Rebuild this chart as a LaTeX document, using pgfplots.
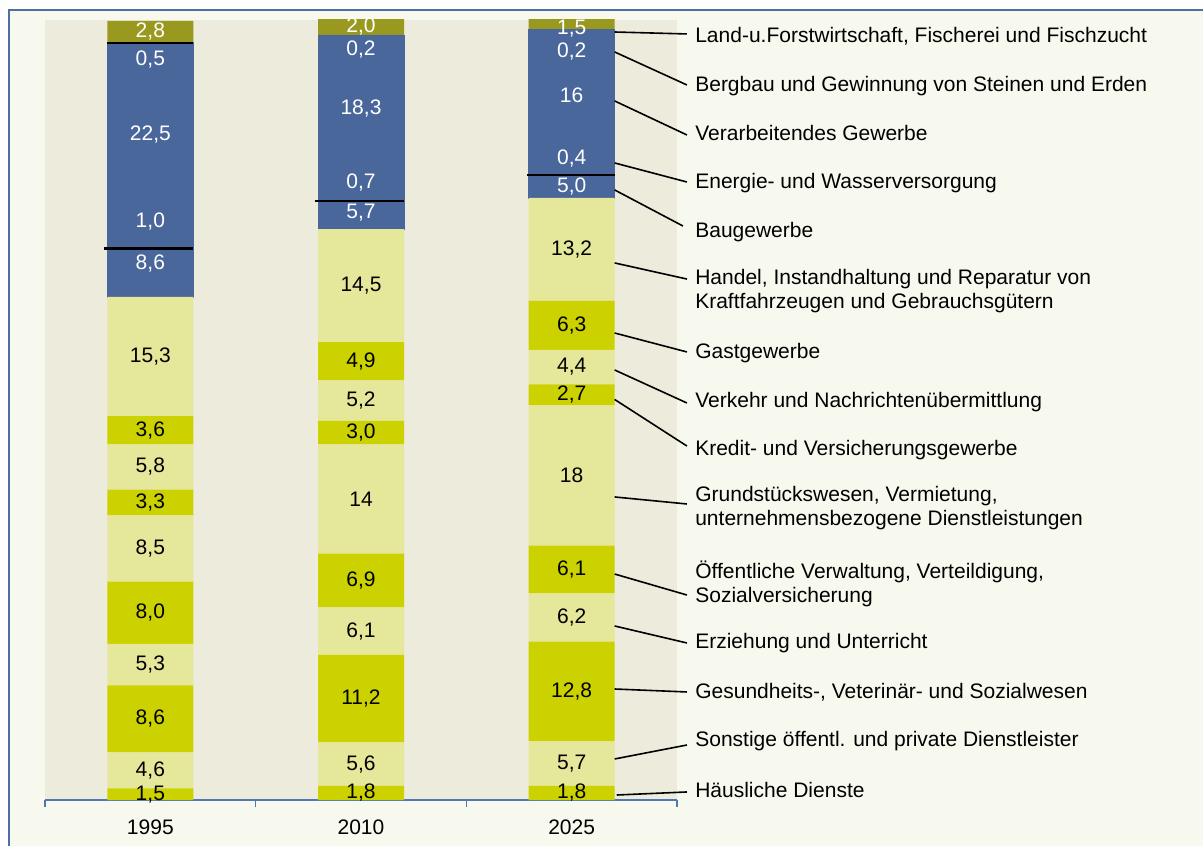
\documentclass[border=0pt]{standalone}
\usepackage{fontspec}
\setmainfont{Liberation Sans}
\usepackage{pgfplots}
\usepackage{pgfplotstable}
\pgfplotsset{compat=1.18}

\definecolor{barblue}{RGB}{74,103,155}
\definecolor{barolive}{RGB}{153,153,31}
\definecolor{barlight}{RGB}{229,231,154}
\definecolor{barlime}{RGB}{204,209,0}
\definecolor{plotbg}{RGB}{237,235,220}
\definecolor{framebg}{RGB}{248,249,238}
\definecolor{frameblue}{RGB}{79,110,165}
\definecolor{axisblue}{RGB}{79,120,180}

% shares in percent, stacked from bottom to top
\pgfplotstableread{
x haeus sonst ges erz oeff grund kredit verkehr gast handel bau energie verarb bergbau land
0 1.5 4.6 8.6 5.3 8.0 8.5 3.3 5.8 3.6 15.3 8.6 1.0 22.5 0.5 2.8
1 1.8 5.6 11.2 6.1 6.9 14 3.0 5.2 4.9 14.5 5.7 0.7 18.3 0.2 2.0
2 1.8 5.7 12.8 6.2 6.1 18 2.7 4.4 6.3 13.2 5.0 0.4 16 0.2 1.5
}\shares

% value labels (placed at segment middles, small ones moved as in the original)
\pgfplotstableread{
x y lab
0 68.8 8,6
0 74.2 1,0
0 85.35 22,5
0 94.9 0,5
0 98.5 2,8
1 75.3 5,7
1 79.1 0,7
1 88.7 18,3
1 96.2 0,2
1 99.1 2,0
2 78.7 5,0
2 82.3 0,4
2 90.4 16
2 95.9 0,2
2 98.85 1,5
}\lblwhite

\pgfplotstableread{
x y lab
0 0.75 1,5
0 3.8 4,6
0 10.4 8,6
0 17.35 5,3
0 24.0 8,0
0 32.25 8,5
0 38.15 3,3
0 42.7 5,8
0 47.4 3,6
0 56.85 15,3
1 0.9 1,8
1 4.6 5,6
1 13.0 11,2
1 21.65 6,1
1 28.15 6,9
1 38.6 14
1 47.1 3,0
1 51.2 5,2
1 56.25 4,9
1 65.95 14,5
2 0.9 1,8
2 4.65 5,7
2 13.9 12,8
2 23.4 6,2
2 29.55 6,1
2 41.6 18
2 51.95 2,7
2 55.5 4,4
2 60.85 6,3
2 70.6 13,2
}\lblblack

\begin{document}
\begin{tikzpicture}[font=\fontsize{10.5}{12}\selectfont]
\useasboundingbox (0,0) rectangle (601.5pt,422.5pt);
\clip (0,0) rectangle (601.5pt,422.5pt);
\fill[white] (0,0) rectangle (601.5pt,422.5pt);
\filldraw[fill=framebg, draw=frameblue, line width=1pt] (4.25pt,417.5pt) rectangle (630pt,-20pt);

\begin{axis}[
  at={(22.5pt,22.5pt)}, anchor=south west,
  scale only axis, width=316pt, height=390pt,
  ybar stacked, bar width=43pt,
  xmin=-0.5, xmax=2.5, ymin=0, ymax=100,
  enlargelimits=false,
  axis background/.style={fill=plotbg},
  axis y line=none, axis x line*=bottom,
  x axis line style={draw=axisblue, line width=0.8pt, -},
  xtick={-0.5,0.5,1.5,2.5},
  x tick label as interval,
  xticklabels={1995,2010,2025},
  tick align=outside,
  major tick length=3.5pt,
  xtick style={draw=axisblue, line width=0.8pt},
  xticklabel style={font=\fontsize{10.5}{12}\selectfont, anchor=center, yshift=-10pt},
  /pgf/number format/assume math mode=true,
]
\addplot[fill=barlime, draw=none] table[x=x, y=haeus] {\shares};
\addplot[fill=barlight, draw=none] table[x=x, y=sonst] {\shares};
\addplot[fill=barlime, draw=none] table[x=x, y=ges] {\shares};
\addplot[fill=barlight, draw=none] table[x=x, y=erz] {\shares};
\addplot[fill=barlime, draw=none] table[x=x, y=oeff] {\shares};
\addplot[fill=barlight, draw=none] table[x=x, y=grund] {\shares};
\addplot[fill=barlime, draw=none] table[x=x, y=kredit] {\shares};
\addplot[fill=barlight, draw=none] table[x=x, y=verkehr] {\shares};
\addplot[fill=barlime, draw=none] table[x=x, y=gast] {\shares};
\addplot[fill=barlight, draw=none] table[x=x, y=handel] {\shares};
\addplot[fill=barblue, draw=barblue, line width=0.3pt] table[x=x, y=bau] {\shares};
\addplot[fill=barblue, draw=barblue, line width=0.3pt] table[x=x, y=energie] {\shares};
\addplot[fill=barblue, draw=barblue, line width=0.3pt] table[x=x, y=verarb] {\shares};
\addplot[fill=barblue, draw=barblue, line width=0.3pt] table[x=x, y=bergbau] {\shares};
\addplot[fill=barolive, draw=none] table[x=x, y=land] {\shares};
\end{axis}

\begin{axis}[
  at={(22.5pt,22.5pt)}, anchor=south west,
  scale only axis, width=316pt, height=390pt,
  xmin=-0.5, xmax=2.5, ymin=0, ymax=100,
  hide axis, clip=false,
  nodes near coords, point meta=explicit symbolic,
  every node near coord/.append style={anchor=center, inner sep=0pt,
    font=\fontsize{10.5}{12}\selectfont},
]
% separator lines inside the blue block
\draw[black, line width=1.5pt] (axis cs:-0.22,70.64) -- (axis cs:0.204,70.64);
\draw[black, line width=1pt] (axis cs:-0.206,97.05) -- (axis cs:0.204,97.05);
\draw[black, line width=1pt] (axis cs:0.78,76.79) -- (axis cs:1.204,76.79);
\draw[black, line width=1pt] (axis cs:1.788,80.13) -- (axis cs:2.204,80.13);

\addplot[only marks, mark=none, nodes near coords style={text=white}]
  table[x=x, y=y, meta=lab] {\lblwhite};
\addplot[only marks, mark=none, nodes near coords style={text=black}]
  table[x=x, y=y, meta=lab] {\lblblack};

% leader lines from the 2025 bar
\draw[black, line width=0.8pt] (axis cs:2.204,98.46) -- (axis cs:2.547,98.21);
\draw[black, line width=0.8pt] (axis cs:2.204,95.90) -- (axis cs:2.547,91.67);
\draw[black, line width=0.8pt] (axis cs:2.204,89.62) -- (axis cs:2.547,85.26);
\draw[black, line width=0.8pt] (axis cs:2.204,81.67) -- (axis cs:2.547,79.23);
\draw[black, line width=0.8pt] (axis cs:2.204,78.21) -- (axis cs:2.528,73.59);
\draw[black, line width=0.8pt] (axis cs:2.204,68.85) -- (axis cs:2.547,66.79);
\draw[black, line width=0.8pt] (axis cs:2.204,59.87) -- (axis cs:2.547,57.44);
\draw[black, line width=0.8pt] (axis cs:2.204,55.13) -- (axis cs:2.547,50.90);
\draw[black, line width=0.8pt] (axis cs:2.204,51.35) -- (axis cs:2.547,45.38);
\draw[black, line width=0.8pt] (axis cs:2.204,38.85) -- (axis cs:2.547,37.95);
\draw[black, line width=0.8pt] (axis cs:2.204,28.97) -- (axis cs:2.547,26.28);
\draw[black, line width=0.8pt] (axis cs:2.204,22.31) -- (axis cs:2.547,20.13);
\draw[black, line width=0.8pt] (axis cs:2.204,14.23) -- (axis cs:2.547,13.85);
\draw[black, line width=0.8pt] (axis cs:2.204,5.26) -- (axis cs:2.547,7.05);
\draw[black, line width=0.8pt] (axis cs:2.214,0.64) -- (axis cs:2.547,1.03);

% sector names
\begin{scope}[every node/.style={anchor=west, align=left, inner sep=0pt,
    font=\fontsize{10.5}{12}\selectfont}]
\node at (axis cs:2.585,97.95) {Land-u.Forstwirtschaft, Fischerei und Fischzucht};
\node at (axis cs:2.585,91.54) {Bergbau und Gewinnung von Steinen und Erden};
\node at (axis cs:2.585,85.51) {Verarbeitendes Gewerbe};
\node at (axis cs:2.585,79.10) {Energie- und Wasserversorgung};
\node at (axis cs:2.585,72.82) {Baugewerbe};
\node at (axis cs:2.585,65.26) {Handel, Instandhaltung und Reparatur von\\Kraftfahrzeugen und Gebrauchsgütern};
\node at (axis cs:2.585,57.31) {Gastgewerbe};
\node at (axis cs:2.585,51.03) {Verkehr und Nachrichtenübermittlung};
\node at (axis cs:2.585,44.87) {Kredit- und Versicherungsgewerbe};
\node at (axis cs:2.585,37.44) {Grundstückswesen, Vermietung,\\unternehmensbezogene Dienstleistungen};
\node at (axis cs:2.585,27.69) {Öffentliche Verwaltung, Verteildigung,\\Sozialversicherung};
\node at (axis cs:2.585,20.13) {Erziehung und Unterricht};
\node at (axis cs:2.585,13.85) {Gesundheits-, Veterinär- und Sozialwesen};
\node at (axis cs:2.585,7.56) {Sonstige öffentl. und private Dienstleister};
\node at (axis cs:2.585,1.28) {Häusliche Dienste};
\end{scope}
\end{axis}
\end{tikzpicture}
\end{document}
